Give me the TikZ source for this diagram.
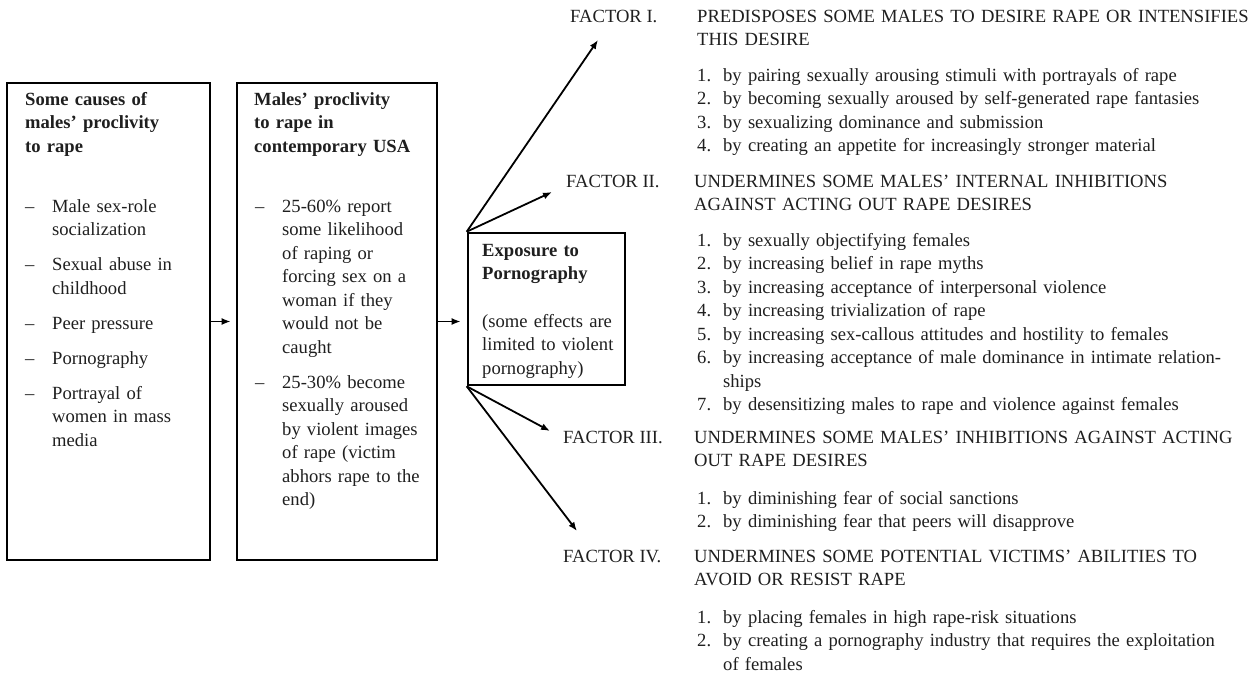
\documentclass[tikz,border=0pt]{standalone}
\usepackage{fontspec}
\setmainfont{Liberation Serif}
\usetikzlibrary{arrows.meta}

\newcommand\fs{\fontsize{18.6}{23.5}\selectfont}
% numbered line with hanging indent
\newcommand\litem[2]{\hangindent=26pt\hangafter=1\noindent\makebox[26pt][l]{#1}#2\par}
% dash line inside the boxes
\newcommand\ditem[1]{\hangindent=27pt\hangafter=1\noindent\makebox[27pt][l]{\textendash}#1\par\vskip11.5pt}

\begin{document}
\begin{tikzpicture}[x=1pt,y=-1pt,
    box/.style={draw,line width=2.6pt,inner sep=0pt},
    txt/.style={anchor=base west,inner sep=0pt,align=left,font=\fs,text=black!88},
    arr/.style={line width=1.8pt,-{Latex[length=9pt,width=7pt]}}]
\useasboundingbox (0,0) rectangle (1259,675);

% the three boxes
\node[box,minimum width=203pt,minimum height=477pt] (causes) at (108.5,321.5) {};
\node[box,minimum width=200pt,minimum height=477pt] (proclivity) at (337,321.5) {};
\node[box,minimum width=157pt,minimum height=152pt] (exposure) at (546.5,309) {};

% box texts
\node[txt,text width=180pt,font=\fs\bfseries] (causeshead) at (25,105)
  {Some causes of\\males' proclivity\\to rape};
\node[txt,text width=180pt] (causeslist) at (25,212) {%
  \ditem{Male sex-role\newline socialization}
  \ditem{Sexual abuse in\newline childhood}
  \ditem{Peer pressure}
  \ditem{Pornography}
  \ditem{Portrayal of\newline women in mass\newline media}};
\node[txt,text width=180pt,font=\fs\bfseries] (prochead) at (254,105)
  {Males' proclivity\\to rape in\\contemporary USA};
\node[txt,text width=180pt] (proclist) at (255,212) {%
  \ditem{25-60\% report\newline some likelihood\newline of raping or\newline forcing sex on a\newline woman if they\newline would not be\newline caught}
  \ditem{25-30\% become\newline sexually aroused\newline by violent images\newline of rape (victim\newline abhors rape to the\newline end)}};
\node[txt,text width=150pt,font=\fs\bfseries] (exphead) at (482,256)
  {Exposure to\\Pornography};
\node[txt,text width=150pt] (expnote) at (482,327)
  {(some effects are\\limited to violent\\pornography)};

% arrows between the boxes
\draw[arr,shorten >=5pt] (causes.east) -- (proclivity.west);
\draw[arr,shorten >=6pt] (proclivity.east) -- (proclivity.east -| exposure.west);

% fan of arrows to the factors
\coordinate (fone) at (598,40);
\coordinate (ftwo) at (552,192);
\coordinate (fthree) at (550,431);
\coordinate (ffour) at (577,531);
\draw[arr] (exposure.north west) -- (fone);
\draw[arr] (exposure.north west) -- (ftwo);
\draw[arr] (exposure.south west) -- (fthree);
\draw[arr] (exposure.south west) -- (ffour);

% factor I
\node[txt] (labone) at (570,22) {FACTOR I.};
\node[txt,text width=570pt] (headone) at (697,22)
  {PREDISPOSES SOME MALES TO DESIRE RAPE OR INTENSIFIES\\THIS DESIRE};
\node[txt,text width=560pt] (listone) at (697,81) {%
  \litem{1.}{by pairing sexually arousing stimuli with portrayals of rape}
  \litem{2.}{by becoming sexually aroused by self-generated rape fantasies}
  \litem{3.}{by sexualizing dominance and submission}
  \litem{4.}{by creating an appetite for increasingly stronger material}};

% factor II
\node[txt] (labtwo) at (566,187) {FACTOR II.};
\node[txt,text width=570pt] (headtwo) at (694,187)
  {UNDERMINES SOME MALES' INTERNAL INHIBITIONS\\AGAINST ACTING OUT RAPE DESIRES};
\node[txt,text width=560pt] (listtwo) at (697,246) {%
  \litem{1.}{by sexually objectifying females}
  \litem{2.}{by increasing belief in rape myths}
  \litem{3.}{by increasing acceptance of interpersonal violence}
  \litem{4.}{by increasing trivialization of rape}
  \litem{5.}{by increasing sex-callous attitudes and hostility to females}
  \litem{6.}{by increasing acceptance of male dominance in intimate relation-\newline ships}
  \litem{7.}{by desensitizing males to rape and violence against females}};

% factor III
\node[txt] (labthree) at (563,443) {FACTOR III.};
\node[txt,text width=570pt] (headthree) at (694,443)
  {UNDERMINES SOME MALES' INHIBITIONS AGAINST ACTING\\OUT RAPE DESIRES};
\node[txt,text width=560pt] (listthree) at (697,504) {%
  \litem{1.}{by diminishing fear of social sanctions}
  \litem{2.}{by diminishing fear that peers will disapprove}};

% factor IV
\node[txt] (labfour) at (563,562) {FACTOR IV.};
\node[txt,text width=570pt] (headfour) at (694,562)
  {UNDERMINES SOME POTENTIAL VICTIMS' ABILITIES TO\\AVOID OR RESIST RAPE};
\node[txt,text width=560pt] (listfour) at (697,623) {%
  \litem{1.}{by placing females in high rape-risk situations}
  \litem{2.}{by creating a pornography industry that requires the exploitation\newline of females}};
\end{tikzpicture}
\end{document}
